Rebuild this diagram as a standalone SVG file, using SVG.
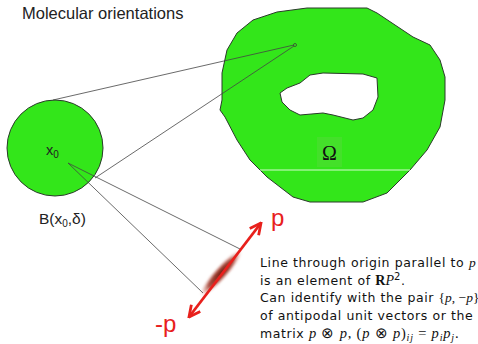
<svg xmlns="http://www.w3.org/2000/svg" width="478" height="344" viewBox="0 0 478 344">
<defs>
<style>
.sans{font-family:"Liberation Sans",Arial,sans-serif;fill:#222}
.txt{font-family:"DejaVu Sans",Verdana,sans-serif;font-size:12.5px;letter-spacing:0.6px;fill:#111}
.m{font-family:"Liberation Serif","Times New Roman",serif;font-style:italic;letter-spacing:0}
.r{font-family:"Liberation Serif","Times New Roman",serif;letter-spacing:0}
.l5 .m,.l5 .r{font-size:14.5px;letter-spacing:0.8px}
.l5 .s{font-size:10px}
.red{font-family:"Liberation Sans",Arial,sans-serif;font-size:24px;fill:#e8201c}
.conn{stroke:#444;stroke-width:0.8;fill:none}
.green{fill:#33e61a;stroke:#2a3a2a;stroke-width:1}
</style>
<radialGradient id="blob" cx="0.5" cy="0.5" r="0.5">
<stop offset="0" stop-color="#6e1a0e" stop-opacity="1"/>
<stop offset="0.6" stop-color="#9a3020" stop-opacity="0.85"/>
<stop offset="1" stop-color="#d07060" stop-opacity="0"/>
</radialGradient>
<filter id="blur" x="-30%" y="-60%" width="160%" height="220%">
<feGaussianBlur stdDeviation="1.2"/>
</filter>
<marker id="ah" viewBox="0 0 10 10" refX="9" refY="5" markerWidth="5" markerHeight="5" orient="auto-start-reverse" markerUnits="strokeWidth">
<path d="M1,1 L9,5 L1,9" fill="none" stroke="#e8201c" stroke-width="2"/>
</marker>
</defs>
<rect width="478" height="344" fill="#fff"/>
<text class="sans" x="22" y="19" font-size="16.5">Molecular orientations</text>

<g id="omega">
<path class="green" fill-rule="evenodd" d="M307,8 L367,8 L377,13 L413,37 L430,45 L440,60 L445,77 L445,100 L440,127 L427,150 L410,170 L400,180 L387,193 L363,202 L310,202 L293,197 L280,187 L267,177 L260,170 L250,160 L237,140 L225,117 L220,110 L222,100 L222,73 L227,50 L237,33 L253,20 L277,12 Z M280,93 L287,88 L300,83 L310,75 L323,73 L363,74 L377,78 L378,97 L373,110 L363,118 L353,120 L333,115 L323,113 L300,115 L290,110 L282,102 Z"/>
<line x1="260" y1="170" x2="410" y2="170" stroke="#fff" stroke-width="0.8"/>
<rect x="317" y="137" width="25" height="30" fill="#44e02a"/>
<text class="r" x="329.5" y="160" font-size="20" text-anchor="middle" fill="#111">Ω</text>
<circle cx="295" cy="45" r="1.5" fill="#3aea22" stroke="#333" stroke-width="0.7"/>
</g>

<g id="ball">
<circle class="green" cx="55" cy="148" r="48"/>
<text class="sans" x="46" y="155" font-size="14.5">x<tspan font-size="10" dy="3">0</tspan></text>
<text class="sans" x="39" y="224" font-size="15.5">B(x<tspan font-size="10" dy="3">0</tspan><tspan dy="-3">,δ)</tspan></text>
</g>

<g id="connectors">
<line class="conn" x1="53" y1="100" x2="294" y2="45"/>
<line class="conn" x1="95" y1="178" x2="294" y2="46"/>
<line class="conn" x1="68" y1="163" x2="240" y2="249"/>
<line class="conn" x1="68" y1="163" x2="203" y2="293"/>
</g>

<g id="director">
<ellipse cx="221" cy="273" rx="30" ry="6.5" fill="url(#blob)" filter="url(#blur)" transform="rotate(-48 221 273)"/>
<line x1="189" y1="317" x2="261" y2="223" stroke="#e8201c" stroke-width="2.8" marker-start="url(#ah)" marker-end="url(#ah)"/>
<text class="red" x="271" y="226">p</text>
<text class="red" x="155" y="332">-p</text>
</g>

<g id="caption">
<text class="txt" x="260" y="267">Line through origin parallel to <tspan class="m" font-size="13.5">p</tspan></text>
<text class="txt" x="260" y="285">is an element of <tspan class="r" font-weight="bold" font-size="14">R</tspan><tspan class="m" font-size="14">P</tspan><tspan font-size="10" dy="-5">2</tspan><tspan dy="5">.</tspan></text>
<text class="txt" x="260" y="302">Can identify with the pair <tspan class="r" font-size="13.5">{</tspan><tspan class="m" font-size="13.5">p</tspan><tspan class="r" font-size="13.5">, −</tspan><tspan class="m" font-size="13.5">p</tspan><tspan class="r" font-size="13.5">}</tspan></text>
<text class="txt" x="260" y="320">of antipodal unit vectors or the</text>
<text class="txt l5" x="260" y="338">matrix <tspan class="m">p</tspan><tspan class="r"> ⊗ </tspan><tspan class="m">p</tspan><tspan class="r">, (</tspan><tspan class="m">p</tspan><tspan class="r"> ⊗ </tspan><tspan class="m">p</tspan><tspan class="r">)</tspan><tspan class="m s" dy="3">ij</tspan><tspan class="r" dy="-3"> = </tspan><tspan class="m">p</tspan><tspan class="m s" dy="3">i</tspan><tspan class="m" dy="-3">p</tspan><tspan class="m s" dy="3">j</tspan><tspan class="r" dy="-3">.</tspan></text>
</g>
</svg>
